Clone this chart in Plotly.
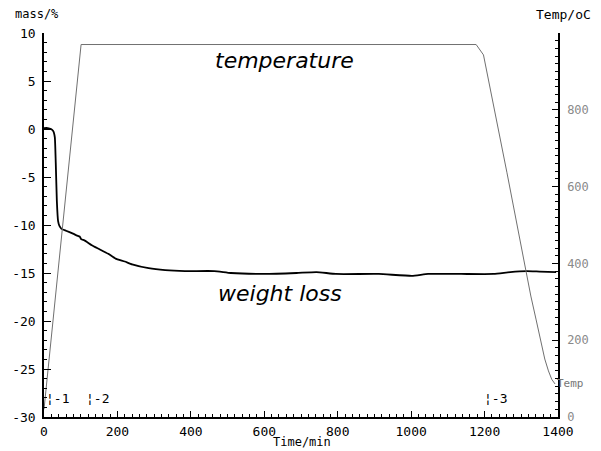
import plotly.graph_objects as go

# ---- data ----
time_mass = [0, 10, 19, 25, 27, 29.6, 32, 35, 38.4, 42, 47.6, 60, 79, 90, 97, 102, 110, 130,
             150, 175, 195, 220, 240, 285, 330, 384, 464, 509, 600, 688, 742, 795, 912, 1002,
             1046, 1136, 1225, 1270, 1315, 1350, 1395]
mass = [0.1, 0.1, 0.0, -0.2, -0.4, -0.9, -3.5, -7.5, -9.6, -10.1, -10.4, -10.6, -10.9, -11.1,
        -11.2, -11.5, -11.6, -12.1, -12.5, -13.0, -13.5, -13.8, -14.1, -14.5, -14.7, -14.8,
        -14.8, -15.0, -15.1, -15.0, -14.9, -15.1, -15.1, -15.3, -15.1, -15.1, -15.1, -14.9,
        -14.8, -14.85, -14.9]

time_temp = [0, 101, 1177, 1197, 1261, 1279, 1312, 1326, 1340, 1352, 1364, 1374, 1383, 1392]
temp = [20, 970, 970, 943, 636, 545, 380, 315, 255, 200, 151, 120, 98, 86]

x_ticks = [0, 200, 400, 600, 800, 1000, 1200, 1400]
x_ticktext = ["0", "200", "400", "600", "800", "1000", "1200", "1400"]
y_ticks = [10, 5, 0, -5, -10, -15, -20, -25, -30]
y_ticktext = ["10", "5", "0", "-5", "-10", "-15", "-20", "-25", "-30"]
y2_ticks = [0, 200, 400, 600, 800]
y2_ticktext = ["0", "200", "400", "600", "800"]

segment_marks = ["¦-1", "¦-2", "¦-3"]
segment_times = [0, 110, 1193]

MONO = "DejaVu Sans Mono"
SANS = "DejaVu Sans"

fig = go.Figure()
fig.add_trace(go.Scatter(x=time_temp, y=temp, yaxis="y2", mode="lines",
                         line=dict(color="#707070", width=1), showlegend=False))
fig.add_trace(go.Scatter(x=time_mass, y=mass, mode="lines",
                         line=dict(color="black", width=1.8, shape="spline", smoothing=0.4),
                         showlegend=False))

annotations = []
for lab, t in zip(segment_marks, segment_times):
    annotations.append(dict(x=t, y=-28.1, xref="x", yref="y", text=lab, showarrow=False,
                            xanchor="left", yanchor="middle",
                            font=dict(family=MONO, size=13, color="black")))
annotations += [
    dict(x=1391, y=86, xref="x", yref="y2", text="Temp", showarrow=False,
         xanchor="left", yanchor="middle", font=dict(family=MONO, size=11, color="#777")),
    dict(x=656, y=7.1, xref="x", yref="y", text="<i>temperature</i>", showarrow=False,
         xanchor="center", yanchor="middle", font=dict(family=SANS, size=22, color="black")),
    dict(x=642, y=-17.1, xref="x", yref="y", text="<i>weight loss</i>", showarrow=False,
         xanchor="center", yanchor="middle", font=dict(family=SANS, size=22, color="black")),
    dict(x=-0.013, y=1.049, xref="paper", yref="paper", text="mass/%", showarrow=False,
         xanchor="center", yanchor="middle", font=dict(family=MONO, size=12, color="black")),
    dict(x=1.01, y=1.049, xref="paper", yref="paper", text="Temp/oC", showarrow=False,
         xanchor="center", yanchor="middle", font=dict(family=MONO, size=13, color="black")),
    dict(x=0.501, y=-0.0857, xref="paper", yref="paper", text="Time/min", showarrow=False,
         xanchor="center", yanchor="bottom", borderpad=0,
         font=dict(family=MONO, size=12, color="black")),
]

fig.update_layout(
    width=601, height=451,
    margin=dict(l=44, r=36, t=33, b=33),
    paper_bgcolor="white", plot_bgcolor="white",
    showlegend=False,
    annotations=annotations,
    xaxis=dict(range=[0, 1400], showgrid=False, zeroline=False,
               showline=True, linecolor="black", linewidth=1.5,
               ticks="inside", ticklen=6, tickcolor="black",
               tickvals=x_ticks, ticktext=x_ticktext, ticklabelstandoff=2,
               tickfont=dict(family=MONO, size=13, color="black"),
               minor=dict(ticks="inside", ticklen=3, dtick=20, tickcolor="black")),
    yaxis=dict(range=[-30, 10], showgrid=False, zeroline=False,
               showline=True, linecolor="black", linewidth=1.5,
               ticks="inside", ticklen=7, tickcolor="black",
               tickvals=y_ticks, ticktext=y_ticktext, ticklabelstandoff=4,
               tickfont=dict(family=MONO, size=13, color="black"),
               minor=dict(ticks="inside", ticklen=3, dtick=1, tickcolor="black")),
    yaxis2=dict(range=[0, 1000], overlaying="y", side="right", showgrid=False,
                zeroline=False, showline=True, linecolor="black", linewidth=1.5,
                ticks="inside", ticklen=6, tickcolor="black",
                tickvals=y2_ticks, ticktext=y2_ticktext, ticklabelstandoff=5,
                tickfont=dict(family=MONO, size=12, color="#8a8a8a"),
                minor=dict(ticks="inside", ticklen=3, dtick=20, tickcolor="black")),
)

fig.write_html("out.html")
